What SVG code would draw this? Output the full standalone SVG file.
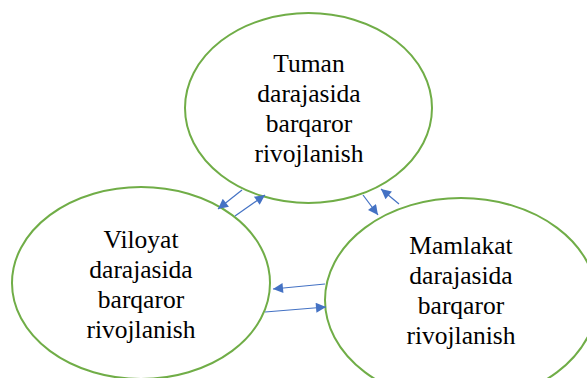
<svg xmlns="http://www.w3.org/2000/svg" width="587" height="378" viewBox="0 0 587 378">
<style>
.node ellipse{fill:#fff;stroke:#70AD47;stroke-width:2}
.node text{font-family:'Liberation Serif',serif;font-size:25.5px;fill:#000;text-anchor:middle}
.conn line{stroke:#4472C4;stroke-width:1.2;marker-end:url(#ah)}
</style>
<defs>
<marker id="ah" viewBox="0 0 10 10" refX="10" refY="5" markerWidth="12" markerHeight="10" markerUnits="userSpaceOnUse" orient="auto">
<path d="M0,0 L10,5 L0,10 z" fill="#4472C4"/>
</marker>
</defs>
<rect width="587" height="378" fill="#fff"/>
<g id="node-tuman" class="node">
<ellipse cx="308.5" cy="108" rx="123.5" ry="95"/>
<text x="309" y="72">Tuman</text>
<text x="309" y="102">darajasida</text>
<text x="309" y="132">barqaror</text>
<text x="309" y="162">rivojlanish</text>
</g>
<g id="node-viloyat" class="node">
<ellipse cx="141" cy="283" rx="129" ry="96"/>
<text x="141" y="248">Viloyat</text>
<text x="141" y="278">darajasida</text>
<text x="141" y="308">barqaror</text>
<text x="141" y="338">rivojlanish</text>
</g>
<g id="node-mamlakat" class="node">
<ellipse cx="461" cy="300" rx="136" ry="102"/>
<text x="461" y="254">Mamlakat</text>
<text x="461" y="284">darajasida</text>
<text x="461" y="314">barqaror</text>
<text x="461" y="344">rivojlanish</text>
</g>
<g id="connectors" class="conn">
<line x1="242" y1="190" x2="218" y2="209"/>
<line x1="235" y1="216" x2="265" y2="195"/>
<line x1="363" y1="195" x2="378" y2="215"/>
<line x1="399" y1="204" x2="381" y2="189"/>
<line x1="325" y1="284" x2="273" y2="289"/>
<line x1="265" y1="312" x2="326" y2="307"/>
</g>
</svg>
